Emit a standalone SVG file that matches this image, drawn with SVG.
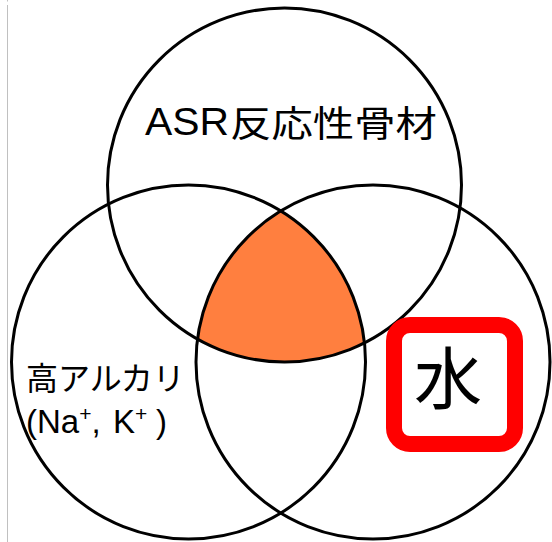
<svg xmlns="http://www.w3.org/2000/svg" width="552" height="542" viewBox="0 0 552 542">
  <style>
    .ring { fill: none; stroke: #000; stroke-width: 3; }
    .lat { font-family: "Liberation Sans", Arial, sans-serif; fill: #000; }
    .cjk { font-family: "Noto Sans CJK JP", "Liberation Sans", sans-serif; fill: #000; }
  </style>
  <rect x="0" y="0" width="552" height="542" fill="#fff"/>
  <line x1="7.5" y1="5" x2="7.5" y2="542" stroke="#c0c0c0" stroke-width="1"/>
  <line x1="7.5" y1="0" x2="7.5" y2="1.5" stroke="#c0c0c0" stroke-width="1"/>

  <g id="overlap">
    <path d="M 280.75 211 A 177 177 0 0 0 197.45 339.1 A 177 177 0 0 0 364.5 342.9 A 177 177 0 0 0 280.75 211 Z" fill="#FF7F3F"/>
  </g>

  <g id="node-asr">
    <circle class="ring" cx="284.5" cy="185" r="177"/>
    <text class="lat" x="145" y="135" font-size="38" textLength="84" lengthAdjust="spacingAndGlyphs">ASR</text>
    <text class="cjk" x="230" y="137" font-size="36" textLength="207" lengthAdjust="spacingAndGlyphs">反応性骨材</text>
  </g>

  <g id="node-alkali">
    <circle class="ring" cx="188.5" cy="362" r="177"/>
    <text class="cjk" x="26" y="390" font-size="32">高アルカリ</text>
    <text class="lat" x="26" y="433" font-size="33">(Na<tspan font-size="21" dy="-12">+</tspan><tspan dy="12">,</tspan><tspan x="113">K</tspan><tspan font-size="21" dy="-12">+</tspan><tspan x="156" dy="12">)</tspan></text>
  </g>

  <g id="node-water">
    <circle class="ring" cx="373" cy="362" r="177"/>
    <rect x="394" y="325" width="121" height="119" rx="16" ry="16" fill="#fff" stroke="#ff0000" stroke-width="16"/>
    <text class="cjk" x="448" y="404" font-size="68" text-anchor="middle">水</text>
  </g>

  <g id="connectors"/>
</svg>
